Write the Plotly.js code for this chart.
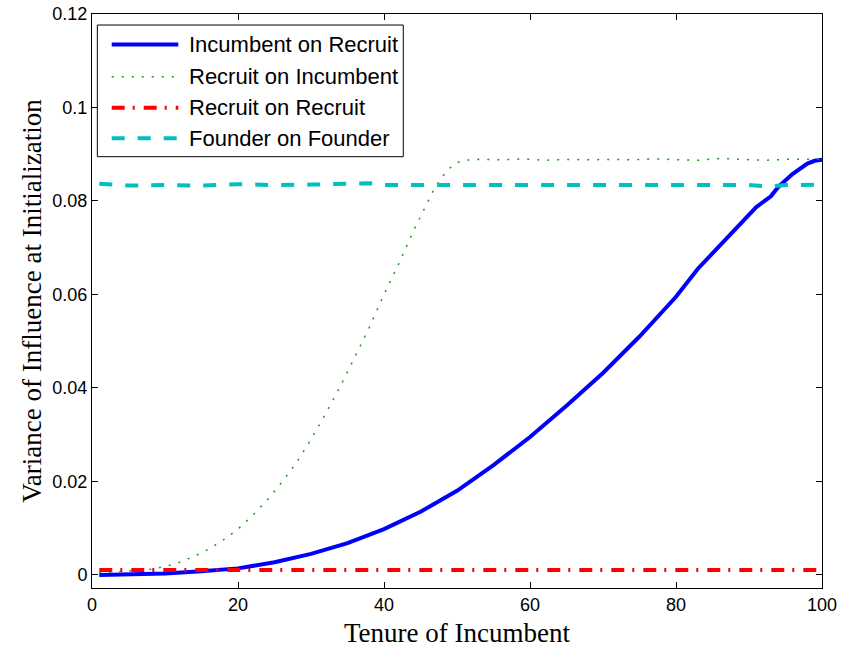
<!DOCTYPE html>
<html>
<head>
<meta charset="utf-8">
<script src="https://cdn.plot.ly/plotly-3.0.1.min.js"></script>
<style>html,body{margin:0;padding:0;background:#fff;}#chart{width:843px;height:649px;}</style>
</head>
<body>
<div id="chart"></div>
<script>
// Incumbent on Recruit (blue solid)
const incRecX = [1, 5, 10, 15, 20, 25, 30, 35, 40, 45, 50, 55, 60, 65, 70, 75, 80, 83, 85, 87, 89, 91, 93, 94, 96, 97, 98, 99, 100];
const incRecY = [0.0000, 0.0001, 0.0003, 0.0008, 0.0014, 0.0027, 0.0045, 0.0068, 0.0098, 0.0135, 0.0180, 0.0235, 0.0295, 0.0362, 0.0432, 0.0510, 0.0595, 0.0655, 0.0688, 0.0722, 0.0756, 0.0787, 0.0810, 0.0830, 0.0858, 0.0870, 0.0880, 0.0886, 0.0888];

// Recruit on Incumbent (green dotted)
const recIncX = [1, 4, 8, 10, 12, 14, 16, 18, 20, 22, 24, 26, 28, 30, 32, 34, 36, 38, 40, 42, 44, 46, 47, 48, 49, 50, 51, 53, 56, 59, 62, 65, 68, 71, 74, 77, 80, 83, 86, 89, 92, 95, 98, 100];
const recIncY = [0.0005, 0.0007, 0.0012, 0.0018, 0.0027, 0.0040, 0.0055, 0.0075, 0.0098, 0.0127, 0.0160, 0.0198, 0.0240, 0.0290, 0.0345, 0.0403, 0.0466, 0.0530, 0.0600, 0.0665, 0.0735, 0.0800, 0.0830, 0.0852, 0.0870, 0.0882, 0.0887, 0.0889, 0.0888, 0.0890, 0.0887, 0.0889, 0.0888, 0.0889, 0.0888, 0.0890, 0.0889, 0.0887, 0.0891, 0.0889, 0.0887, 0.0889, 0.0889, 0.0889];

// Recruit on Recruit (red dash-dot)
const recRecX = [1, 100];
const recRecY = [0.00105, 0.00105];

// Founder on Founder (cyan dashed)
const fndX = [1, 5, 10, 15, 20, 25, 30, 35, 38, 40, 45, 50, 55, 60, 65, 70, 75, 80, 85, 90, 93, 95, 100];
const fndY = [0.0837, 0.0833, 0.0834, 0.0833, 0.0836, 0.0834, 0.0835, 0.0836, 0.0838, 0.0834, 0.0834, 0.0834, 0.0835, 0.0833, 0.0835, 0.0833, 0.0835, 0.0834, 0.0835, 0.0834, 0.0831, 0.0834, 0.0835];

const seriesNames = ['Incumbent on Recruit', 'Recruit on Incumbent', 'Recruit on Recruit', 'Founder on Founder'];
const yTicks = [0, 0.02, 0.04, 0.06, 0.08, 0.1, 0.12];
const yTickText = ['0', '0.02', '0.04', '0.06', '0.08', '0.1', '0.12'];
const xTicks = [0, 20, 40, 60, 80, 100];

const styles = [
  {color: '#0000ff', width: 4, dash: 'solid'},
  {color: '#1a9a1a', width: 1.5, dash: '2px,8px'},
  {color: '#ff0000', width: 4, dash: '13px,8px,2px,9px'},
  {color: '#00bfbf', width: 4, dash: '13px,13px'}
];
const xs = [incRecX, recIncX, recRecX, fndX];
const ys = [incRecY, recIncY, recRecY, fndY];

const traces = xs.map((x, i) => ({
  x: x, y: ys[i], name: seriesNames[i], mode: 'lines', line: styles[i], showlegend: false
}));

// Hand-built legend box (MATLAB style, long line samples)
const legRowsY = [0.9469, 0.8908, 0.8368, 0.7834];
const shapes = [{
  type: 'rect', xref: 'paper', yref: 'paper', x0: 0.0073, x1: 0.4264, y0: 0.7514, y1: 0.9808,
  line: {color: '#000', width: 1}, fillcolor: '#fff', layer: 'above'
}];
const annotations = [];
seriesNames.forEach((n, i) => {
  shapes.push({type: 'line', xref: 'paper', yref: 'paper', x0: 0.027, x1: 0.1182, y0: legRowsY[i], y1: legRowsY[i],
    line: styles[i], layer: 'above'});
  annotations.push({xref: 'paper', yref: 'paper', x: 0.1297, y: legRowsY[i], xanchor: 'left', yanchor: 'middle',
    text: n, showarrow: false, font: {family: 'Liberation Sans, Arial, sans-serif', size: 22, color: '#000'}});
});

const axisCommon = {
  showline: true, linecolor: '#000', linewidth: 1, mirror: 'ticks',
  ticks: 'inside', ticklen: 6, tickcolor: '#000', tickwidth: 1,
  showgrid: false, zeroline: false,
  tickfont: {family: 'Liberation Sans, Arial, sans-serif', size: 18, color: '#000'}
};

const layout = {
  width: 843, height: 649,
  margin: {l: 92, r: 21, t: 14, b: 61},
  paper_bgcolor: '#fff', plot_bgcolor: '#fff',
  showlegend: false,
  shapes: shapes,
  annotations: annotations,
  xaxis: Object.assign({}, axisCommon, {
    range: [0, 100], tickvals: xTicks,
    title: {text: 'Tenure of Incumbent', font: {family: 'Liberation Serif, Times New Roman, serif', size: 27, color: '#000'}, standoff: 9}
  }),
  yaxis: Object.assign({}, axisCommon, {
    range: [-0.0028, 0.12], tickvals: yTicks, ticktext: yTickText,
    title: {text: 'Variance of Influence at Initialization', font: {family: 'Liberation Serif, Times New Roman, serif', size: 27, color: '#000'}, standoff: 2}
  })
};

Plotly.newPlot('chart', traces, layout, {displayModeBar: false, staticPlot: true});
</script>
</body>
</html>
